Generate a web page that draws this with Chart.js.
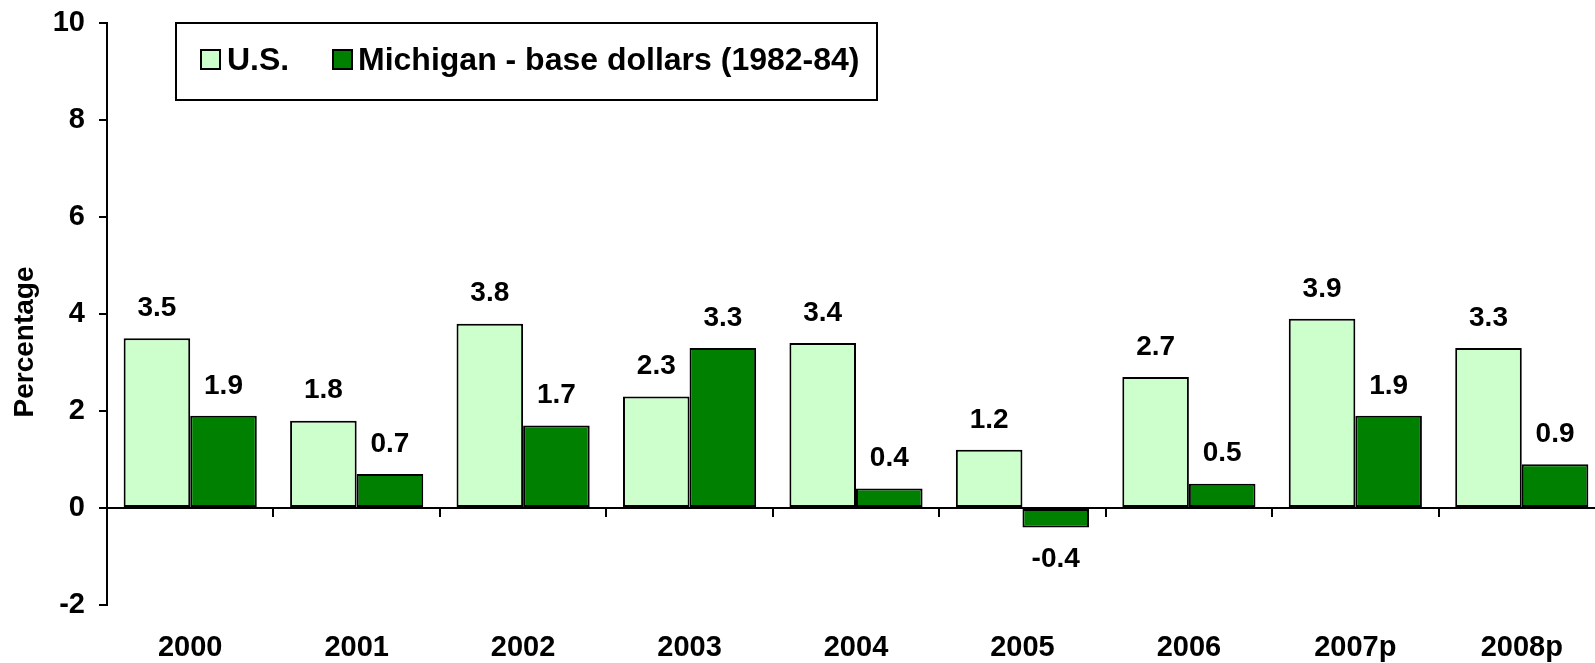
<!DOCTYPE html>
<html><head><meta charset="utf-8">
<script src="https://cdn.jsdelivr.net/npm/chart.js@4.4.1/dist/chart.umd.min.js"></script>
<style>
html,body{margin:0;padding:0;background:#fff;overflow:hidden;}
#wrap{width:1610px;height:663px;position:relative;}
canvas{display:block;}
</style></head><body>
<div id="wrap"><canvas id="c" width="1610" height="663" style="width:1610px;height:663px"></canvas></div>
<script>
const categories = ['2000','2001','2002','2003','2004','2005','2006','2007p','2008p'];
const usValues = [3.5, 1.8, 3.8, 2.3, 3.4, 1.2, 2.7, 3.9, 3.3];
const michiganValues = [1.9, 0.7, 1.7, 3.3, 0.4, -0.4, 0.5, 1.9, 0.9];
const seriesLabels = ['U.S.', 'Michigan - base dollars (1982-84)'];
const yAxisTitle = 'Percentage';
const yMin = -2, yMax = 10, yStep = 2;

const FONT = '"Liberation Sans", Arial, Helvetica, sans-serif';
const US_COLOR = '#CCFFCC';
const MI_COLOR = '#008000';

const decor = {
  id: 'decor',
  afterDatasetsDraw(chart) {
    const {ctx, chartArea: a, scales: {x, y}} = chart;
    const y0 = y.getPixelForValue(0);
    ctx.save();
    ctx.strokeStyle = '#000';
    ctx.lineWidth = 2;
    ctx.beginPath();
    ctx.moveTo(a.left, y0); ctx.lineTo(a.right, y0);
    for (let i = 1; i < categories.length; i++) {
      const xb = Math.round(x.getPixelForValue(i - 0.5));
      ctx.moveTo(xb, y0); ctx.lineTo(xb, y0 + 9);
    }
    ctx.stroke();

    // data labels
    ctx.font = 'bold 28px ' + FONT;
    ctx.fillStyle = '#000';
    ctx.textAlign = 'center';
    ctx.textBaseline = 'middle';
    chart.data.datasets.forEach((ds, di) => {
      const meta = chart.getDatasetMeta(di);
      meta.data.forEach((bar, i) => {
        const v = ds.data[i];
        const ty = v >= 0 ? bar.y - 30 : bar.y + 32;
        ctx.fillText(v.toFixed(1), bar.x, ty);
      });
    });

    // axis title
    ctx.save();
    ctx.translate(25, (a.top + a.bottom) / 2 + 28);
    ctx.rotate(-Math.PI / 2);
    ctx.font = 'bold 28px ' + FONT;
    ctx.textAlign = 'center';
    ctx.textBaseline = 'middle';
    ctx.fillText(yAxisTitle, 0, 0);
    ctx.restore();

    // legend
    ctx.fillStyle = '#fff';
    ctx.fillRect(176, 23, 701, 77);
    ctx.lineWidth = 2;
    ctx.strokeStyle = '#000';
    ctx.strokeRect(176, 23, 701, 77);
    const items = [
      {sq: 201, tx: 227, ds: chart.data.datasets[0]},
      {sq: 333, tx: 358, ds: chart.data.datasets[1]}
    ];
    ctx.font = 'bold 32px ' + FONT;
    ctx.textAlign = 'left';
    ctx.textBaseline = 'middle';
    items.forEach(it => {
      ctx.fillStyle = it.ds.backgroundColor;
      ctx.fillRect(it.sq, 50, 19, 19);
      ctx.strokeRect(it.sq, 50, 19, 19);
      ctx.fillStyle = '#000';
      ctx.fillText(it.ds.label, it.tx, 61);
    });
    ctx.restore();
  }
};

new Chart(document.getElementById('c'), {
  type: 'bar',
  data: {
    labels: categories,
    datasets: [
      {label: seriesLabels[0], data: usValues, backgroundColor: US_COLOR, borderColor: '#000', borderWidth: 2, borderSkipped: false},
      {label: seriesLabels[1], data: michiganValues, backgroundColor: MI_COLOR, borderColor: '#000', borderWidth: 2, borderSkipped: false}
    ]
  },
  options: {
    responsive: false,
    animation: false,
    devicePixelRatio: 1,
    layout: {padding: {left: 0, right: 5, top: 23, bottom: 0}},
    datasets: {bar: {categoryPercentage: 0.8, barPercentage: 1.0}},
    plugins: {legend: {display: false}, tooltip: {enabled: false}},
    scales: {
      x: {
        position: 'bottom',
        afterFit(scale) { scale.height = 58; scale.paddingLeft = 0; scale.paddingRight = 0; },
        grid: {display: false, drawTicks: false},
        border: {display: false},
        ticks: {color: '#000', font: {family: FONT, size: 29, weight: 'bold'}, padding: 26, maxRotation: 0, autoSkip: false}
      },
      y: {
        min: yMin, max: yMax,
        afterFit(scale) { scale.width = 107; scale.paddingTop = 0; scale.paddingBottom = 0; },
        ticks: {stepSize: yStep, color: '#000', font: {family: FONT, size: 29, weight: 'bold'}, padding: 14},
        grid: {drawOnChartArea: false, drawTicks: true, tickLength: 8, color: '#000', lineWidth: 2},
        border: {display: true, color: '#000', width: 2},
        title: {display: false, text: yAxisTitle}
      }
    }
  },
  plugins: [decor]
});
</script>
</body></html>
